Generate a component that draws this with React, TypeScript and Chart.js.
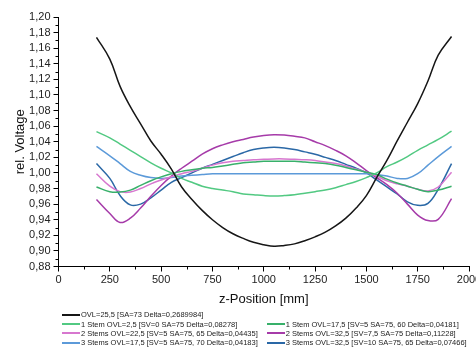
import React, { useEffect, useRef } from "react";
import { Chart, registerables } from "chart.js";
Chart.register(...registerables);

const zPositions = [185, 250, 300, 350, 400, 450, 500, 550, 600, 650, 700, 750, 800, 850, 900, 950, 1000, 1050, 1100, 1150, 1200, 1250, 1300, 1350, 1400, 1450, 1500, 1550, 1600, 1650, 1700, 1750, 1800, 1850, 1915];

const ovl255 = [1.174, 1.146, 1.111, 1.085, 1.063, 1.041, 1.024, 1.005, 0.982, 0.966, 0.952, 0.940, 0.930, 0.922, 0.916, 0.911, 0.908, 0.906, 0.907, 0.909, 0.913, 0.918, 0.924, 0.932, 0.942, 0.955, 0.971, 0.994, 1.016, 1.041, 1.065, 1.089, 1.118, 1.151, 1.175];
const stem1Ovl25 = [1.053, 1.045, 1.037, 1.029, 1.021, 1.013, 1.006, 1.000, 0.993, 0.988, 0.983, 0.980, 0.978, 0.976, 0.973, 0.972, 0.971, 0.9705, 0.971, 0.972, 0.974, 0.976, 0.978, 0.981, 0.985, 0.989, 0.994, 1.000, 1.008, 1.014, 1.021, 1.029, 1.036, 1.043, 1.0535];
const stem1Ovl175 = [0.982, 0.976, 0.9755, 0.978, 0.984, 0.990, 0.995, 0.999, 1.002, 1.004, 1.006, 1.007, 1.009, 1.011, 1.013, 1.014, 1.015, 1.015, 1.015, 1.015, 1.014, 1.013, 1.012, 1.010, 1.007, 1.004, 1.001, 0.998, 0.992, 0.987, 0.983, 0.979, 0.976, 0.978, 0.983];
const stems2Ovl225 = [0.999, 0.983, 0.976, 0.9755, 0.980, 0.986, 0.991, 0.995, 0.999, 1.002, 1.006, 1.010, 1.013, 1.015, 1.016, 1.017, 1.0175, 1.018, 1.018, 1.0175, 1.017, 1.016, 1.014, 1.012, 1.009, 1.005, 1.001, 0.996, 0.990, 0.986, 0.983, 0.979, 0.977, 0.982, 1.001];
const stems2Ovl325 = [0.966, 0.948, 0.9365, 0.942, 0.955, 0.970, 0.984, 0.996, 1.006, 1.015, 1.024, 1.031, 1.036, 1.040, 1.043, 1.046, 1.048, 1.049, 1.0485, 1.047, 1.045, 1.040, 1.035, 1.029, 1.022, 1.013, 1.003, 0.994, 0.985, 0.974, 0.960, 0.946, 0.939, 0.9405, 0.967];
const stems3Ovl175 = [1.034, 1.022, 1.012, 1.002, 0.997, 0.994, 0.993, 0.994, 0.996, 0.997, 0.998, 0.999, 0.999, 0.999, 0.999, 0.999, 0.999, 0.999, 0.999, 0.999, 0.999, 0.999, 0.999, 0.999, 0.999, 0.999, 0.999, 0.998, 0.996, 0.993, 0.993, 0.999, 1.010, 1.021, 1.034];
const stems3Ovl325 = [1.012, 0.993, 0.971, 0.959, 0.960, 0.968, 0.978, 0.988, 0.994, 1.000, 1.006, 1.011, 1.016, 1.021, 1.026, 1.030, 1.032, 1.0328, 1.032, 1.030, 1.027, 1.024, 1.020, 1.016, 1.011, 1.006, 1.000, 0.991, 0.982, 0.973, 0.963, 0.9585, 0.961, 0.979, 1.012];

const seriesLabels = [
  "OVL=25,5 [SA=73 Delta=0,2689984]",
  "1 Stem OVL=2,5 [SV=0 SA=75 Delta=0,08278]",
  "1 Stem OVL=17,5 [SV=5 SA=75, 60 Delta=0,04181]",
  "2 Stems OVL=22,5 [SV=5 SA=75, 65 Delta=0,04435]",
  "2 Stems OVL=32,5 [SV=7,5 SA=75 Delta=0,11228]",
  "3 Stems OVL=17,5 [SV=5 SA=75, 70 Delta=0,04183]",
  "3 Stems OVL=32,5 [SV=10 SA=75, 65 Delta=0,07466]",
];
const seriesValues = [ovl255, stem1Ovl25, stem1Ovl175, stems2Ovl225, stems2Ovl325, stems3Ovl175, stems3Ovl325];
const seriesColors = ["#161616", "#52c982", "#38b06a", "#d777cf", "#a63ba9", "#5c9ad9", "#2a68a6"];
// legend grid placement: [row, col]
const legendSlots = [[0, 0], [1, 0], [1, 1], [2, 0], [2, 1], [3, 0], [3, 1]];

const xTicks = [0, 250, 500, 750, 1000, 1250, 1500, 1750, 2000];
const yMin = 0.88;
const yMax = 1.2;

const FONT = "'Liberation Sans', Arial, sans-serif";

const minorTicks = {
  id: "minorTicks",
  afterDraw(chart: any) {
    const ctx = chart.ctx;
    const xs = chart.scales.x;
    const ys = chart.scales.y;
    const area = chart.chartArea;
    ctx.save();
    ctx.strokeStyle = "#000";
    ctx.lineWidth = 1;
    ctx.beginPath();
    for (let i = 0; i < xTicks.length - 1; i++) {
      const v = (xTicks[i] + xTicks[i + 1]) / 2;
      const px = Math.round(xs.getPixelForValue(v)) + 0.5;
      ctx.moveTo(px, area.bottom);
      ctx.lineTo(px, area.bottom + 3);
    }
    for (let k = 0; k < 32; k++) {
      const v = yMin + 0.01 + k * 0.02;
      if (v > yMax) break;
      const py = Math.round(ys.getPixelForValue(v)) + 0.5;
      ctx.moveTo(area.left - 3, py);
      ctx.lineTo(area.left, py);
    }
    ctx.stroke();
    ctx.restore();
  },
};

export default function App() {
  const ref = useRef<HTMLCanvasElement | null>(null);
  useEffect(() => {
    if (!ref.current) return;
    const chart = new Chart(ref.current, {
      type: "line",
      data: {
        datasets: seriesValues.map((vals, i) => ({
          label: seriesLabels[i],
          data: zPositions.map((z, j) => ({ x: z, y: vals[j] })),
          borderColor: seriesColors[i],
          borderWidth: 1.5,
          pointRadius: 0,
          tension: 0.4,
          fill: false,
        })),
      },
      plugins: [minorTicks],
      options: {
        responsive: false,
        animation: false,
        layout: { padding: { left: 0, top: 17, right: 31, bottom: 37 } },
        plugins: { legend: { display: false }, tooltip: { enabled: false } },
        scales: {
          x: {
            type: "linear",
            min: 0,
            max: 2000,
            afterBuildTicks: (s: any) => {
              s.ticks = xTicks.map((v) => ({ value: v }));
            },
            afterFit: (s: any) => {
              s.height = 43.5;
            },
            grid: { drawOnChartArea: false, drawTicks: true, tickLength: 5, color: "#000" },
            border: { display: true, color: "#000", width: 1 },
            ticks: {
              padding: 2,
              color: "#222",
              font: { family: FONT, size: 11 },
              maxRotation: 0,
              autoSkip: false,
              callback: (v: any) => String(v),
            },
            title: {
              display: true,
              text: "z-Position [mm]",
              color: "#111",
              font: { family: FONT, size: 13 },
              padding: { top: 0, bottom: 3 },
            },
          },
          y: {
            type: "linear",
            min: yMin,
            max: yMax,
            afterFit: (s: any) => {
              s.width = 58.5;
            },
            grid: { drawOnChartArea: false, drawTicks: true, tickLength: 5, color: "#000" },
            border: { display: true, color: "#000", width: 1 },
            ticks: {
              stepSize: 0.02,
              padding: 3,
              color: "#222",
              font: { family: FONT, size: 11 },
              autoSkip: false,
              callback: (v: any) => Number(v).toFixed(2).replace(".", ","),
            },
            title: {
              display: true,
              text: "rel. Voltage",
              color: "#111",
              font: { family: FONT, size: 13 },
              padding: { top: 13, bottom: 0 },
            },
          },
        },
      },
    } as any);
    return () => chart.destroy();
  }, []);

  return (
    <div style={{ position: "fixed", left: 0, top: 0, width: 476, height: 347, overflow: "hidden", background: "#fff" }}>
      <canvas ref={ref} width={500} height={347} style={{ width: 500, height: 347, display: "block" }} />
      {seriesLabels.map((label, i) => {
        const [row, col] = legendSlots[i];
        return (
          <div
            key={i}
            style={{
              position: "absolute",
              left: col === 0 ? 62 : 266.7,
              top: 310.3 + row * 9.25,
              height: 9.25,
              display: "flex",
              alignItems: "center",
              whiteSpace: "nowrap",
              fontFamily: FONT,
              fontSize: 7.5,
              color: "#222",
              lineHeight: "9.25px",
            }}
          >
            <span style={{ display: "inline-block", width: 18, height: 2, background: seriesColors[i], marginRight: 1 }} />
            <span>{label}</span>
          </div>
        );
      })}
    </div>
  );
}
